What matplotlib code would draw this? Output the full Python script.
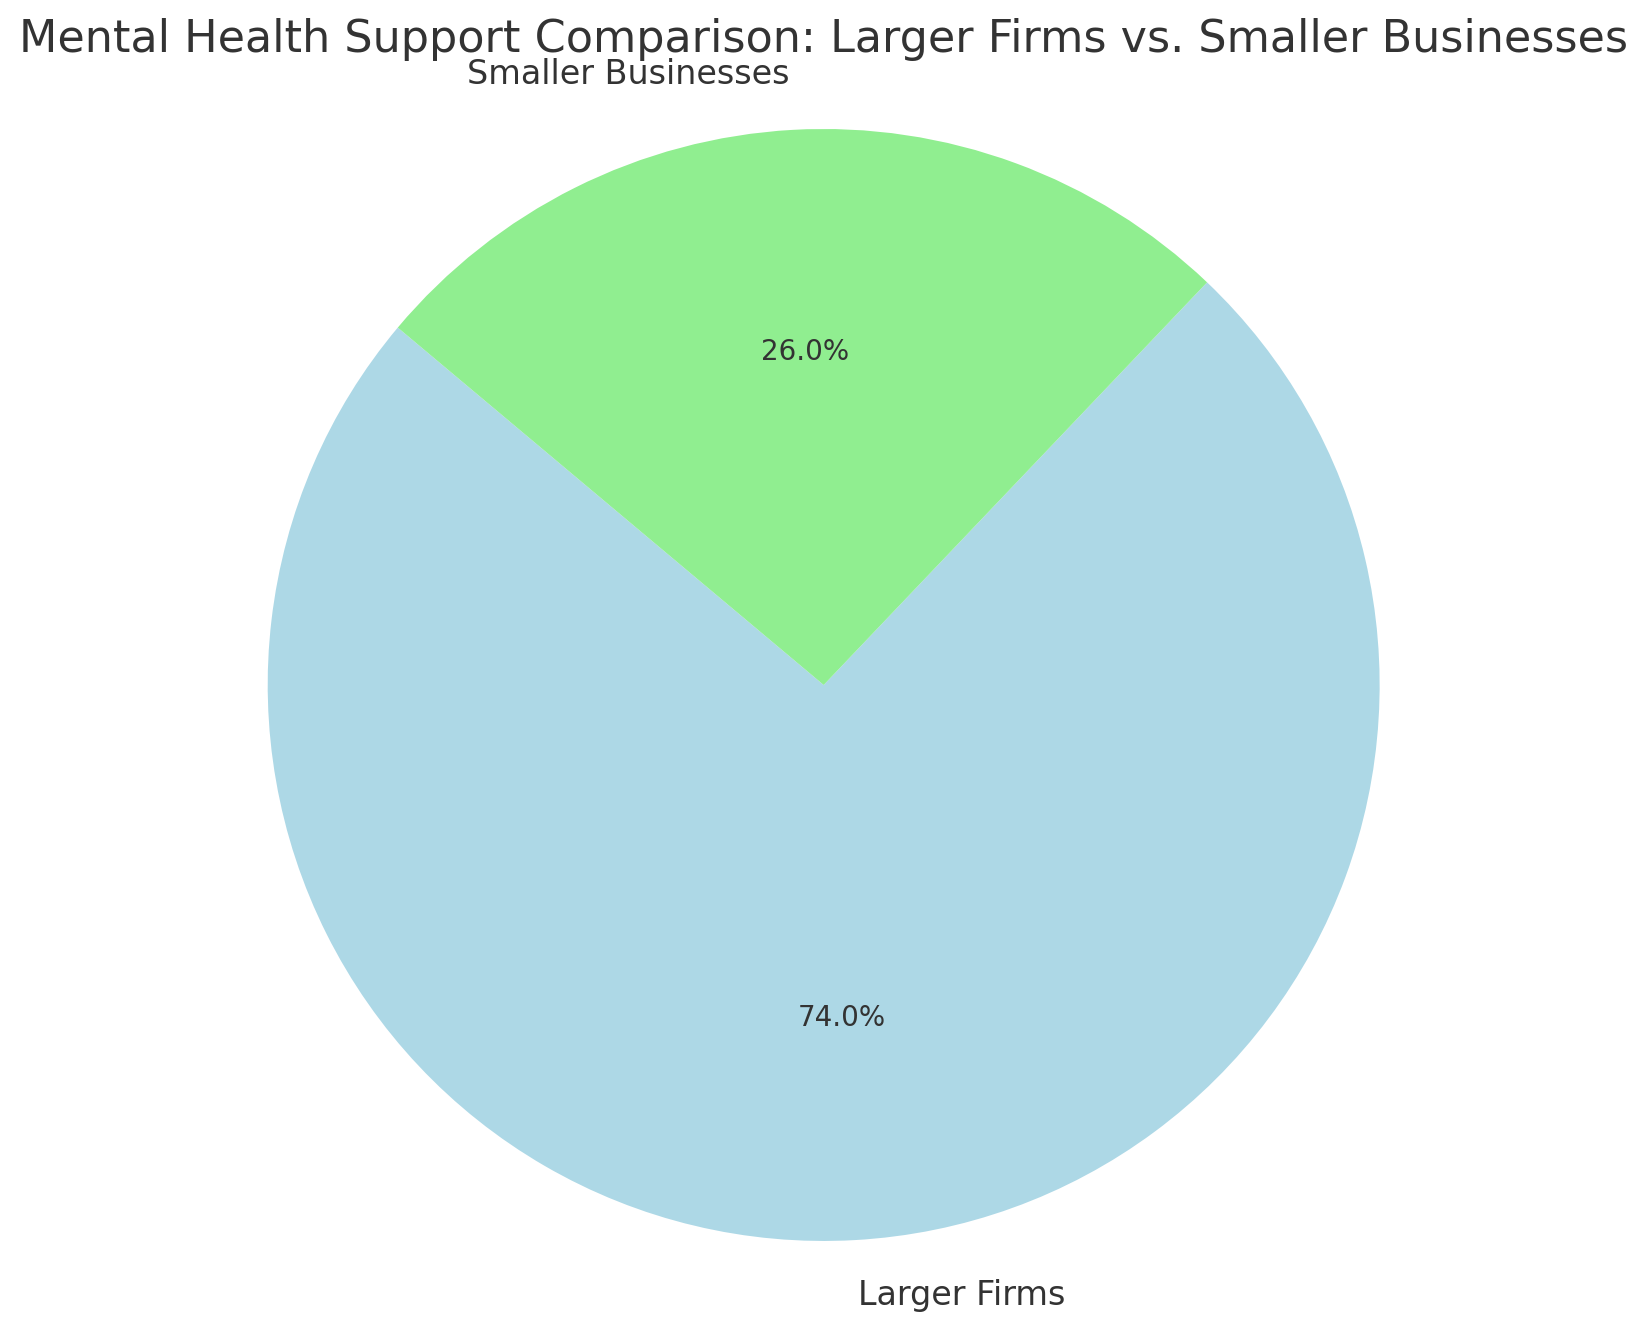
import matplotlib
matplotlib.use("Agg")
import matplotlib.pyplot as plt

# data
categories = ["Larger Firms", "Smaller Businesses"]
shares = [74.0, 26.0]
colors = ["lightblue", "lightgreen"]

plt.rcParams.update({
    "font.family": "DejaVu Sans",
    "text.color": "#333333",
})

fig = plt.figure(figsize=(8.245, 6.66), dpi=200)
ax = fig.add_axes([0.0780, -0.0360, 0.8430, 1.0435])

wedges, texts, autotexts = ax.pie(
    shares,
    labels=categories,
    colors=colors,
    autopct="%1.1f%%",
    startangle=140,
    textprops={"fontsize": 12},
)
for t in autotexts:
    t.set_fontsize(10)
ax.set_aspect("equal")
ax.set_xlim(-1.25, 1.25)
ax.set_ylim(-1.25, 1.25)

fig.text(0.4995, 0.970, "Mental Health Support Comparison: Larger Firms vs. Smaller Businesses",
         ha="center", va="center", fontsize=16, color="#333333")

fig.savefig("out.png", dpi=200)
